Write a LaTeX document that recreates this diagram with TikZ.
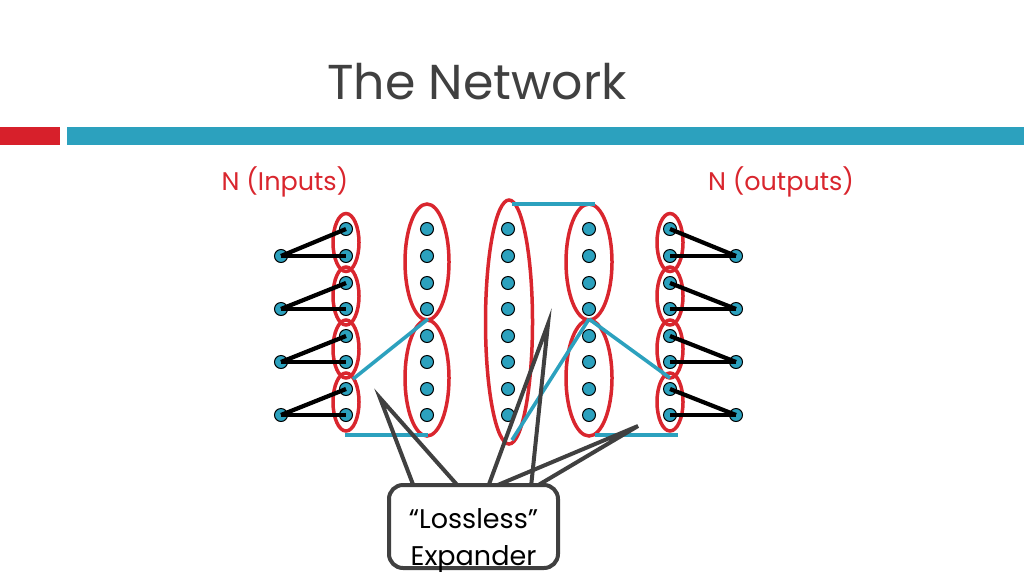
\documentclass[tikz,border=0pt]{standalone}
\usepackage{fontspec}
\setmainfont{Poppins}
\usetikzlibrary{shapes.geometric}
\definecolor{sred}{HTML}{D9262E}
\definecolor{sblue}{HTML}{2CA1BE}
\definecolor{sgray}{HTML}{404040}
\definecolor{barred}{HTML}{D7202B}
\begin{document}
\begin{tikzpicture}[x=1pt,y=-1pt,
 dot/.style={circle,fill=sblue,draw=black,line width=1pt,inner sep=0pt,minimum size=13pt},
 grp/.style={ellipse,draw=sred,line width=3.5pt,inner sep=0pt},
 wire/.style={line width=4.2pt,black},
 bwire/.style={line width=3.6pt,sblue},
 call/.style={line width=4pt,sgray},
 lbl/.style={text=sred,font=\fontsize{25.5}{30}\selectfont}]
\useasboundingbox (0,0) rectangle (1024,576);
\fill[barred] (0,127) rectangle (60,145);
\fill[sblue] (67,127) rectangle (1024,145);
\node[text=sgray,font=\fontsize{49}{54}\selectfont] (title) at (477,82) {The Network};
\node[lbl] (lin) at (285,182) {N (Inputs)};
\node[lbl] (lout) at (781,182) {N (outputs)};

% ellipses
\foreach \k/\y in {1/242.5,2/296,3/349,4/402}{
  \node[grp,minimum width=26pt,minimum height=58pt] (e1\k) at (346,\y) {};
  \node[grp,minimum width=26pt,minimum height=58pt] (e5\k) at (670,\y) {};
}
\node[grp,minimum width=44pt,minimum height=116pt] (e21) at (427,262) {};
\node[grp,minimum width=44pt,minimum height=116pt] (e22) at (427,378) {};
\node[grp,minimum width=47pt,minimum height=244pt] (e3) at (509,322) {};
\node[grp,minimum width=46pt,minimum height=116pt] (e41) at (589,262) {};
\node[grp,minimum width=46pt,minimum height=116pt] (e42) at (589,378) {};

% blue connectors
\coordinate (p1) at (345,435);
\coordinate (p2) at (428,435);
\coordinate (p3) at (353,379);
\coordinate (p4) at (428,319);
\coordinate (p5) at (512,204);
\coordinate (p6) at (595,204);
\coordinate (p7) at (589,319);
\coordinate (p8) at (512,440);
\coordinate (p9) at (670,378);
\coordinate (p10) at (595,435);
\coordinate (p11) at (678,435);
\draw[bwire] (p1) -- (p2);
\draw[bwire] (p3) -- (p4);
\draw[bwire] (p5) -- (p6);
\draw[bwire] (p7) -- (p8);
\draw[bwire] (p7) -- (p9);
\draw[bwire] (p10) -- (p11);

% dots
\foreach \i/\y in {1/229,2/256,3/283,4/309,5/336,6/362,7/389,8/415}{
  \node[dot] (a\i) at (346,\y) {};
  \node[dot] (b\i) at (427,\y) {};
  \node[dot] (c\i) at (508,\y) {};
  \node[dot] (d\i) at (589,\y) {};
  \node[dot] (f\i) at (670,\y) {};
}
\foreach \i/\y in {1/256,2/309,3/362,4/415}{
  \node[dot] (in\i) at (281,\y) {};
  \node[dot] (out\i) at (736,\y) {};
}
% black wires
\foreach \i/\u/\v in {1/1/2,2/3/4,3/5/6,4/7/8}{
  \draw[wire] (in\i.center) -- (a\u.center);
  \draw[wire] (in\i.center) -- (a\v.center);
  \draw[wire] (out\i.center) -- (f\u.center);
  \draw[wire] (out\i.center) -- (f\v.center);
}

% callout
\coordinate (tA) at (380,398);
\coordinate (tB) at (548,324);
\coordinate (tC) at (638,426);
\coordinate (bA1) at (414,487);
\coordinate (bA2) at (459,487);
\coordinate (bB1) at (488,487);
\coordinate (bB2) at (531,487);
\coordinate (bC1) at (493,487);
\coordinate (bC2) at (535,487);
\draw[call] (bA1) -- (tA) -- (bA2);
\draw[call] (bB1) -- (tB) -- (bB2);
\draw[call] (bC1) -- (tC) -- (bC2);
\node[draw=sgray,line width=4pt,fill=white,rounded corners=14pt,minimum width=169pt,minimum height=83pt,inner sep=0pt] (box) at (473.5,526.5) {};
\node[font=\fontsize{27}{37}\selectfont,align=center,anchor=base] (boxtxt) at (473.5,565) {“Lossless”\\Expander};
\end{tikzpicture}
\end{document}
